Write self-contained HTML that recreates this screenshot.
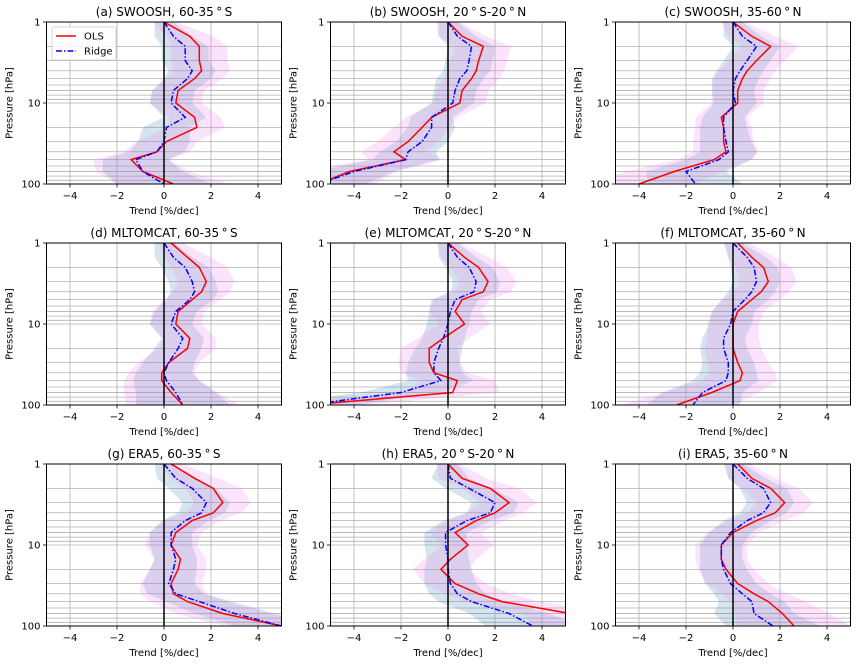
<!DOCTYPE html>
<html><head><meta charset="utf-8">
<style>
html,body{margin:0;padding:0;background:#fff;}
svg{display:block;font-family:"DejaVu Sans","Liberation Sans",sans-serif;}
</style></head>
<body>
<svg id="fig" width="858" height="666" viewBox="0 0 858 666" xmlns="http://www.w3.org/2000/svg"></svg>
<script>
const levels=[1,1.5,2,3,4,5,7,10,15,20,30,40,50,70,100];
const xTicks=[-4,-2,0,2,4];
const yTickLabels=[1,10,100];
const errO=[0.5,1.0,1.2,1.2,1.2,1.2,1.1,1.1,1.1,1.2,1.3,1.4,1.6,2.0,2.4];
const errR=[0.4,0.8,1.0,1.0,1.0,1.0,0.9,0.9,0.9,1.0,1.1,1.2,1.4,1.7,2.0];
const titles=["(a) SWOOSH, 60-35$S","(b) SWOOSH, 20$S-20$N","(c) SWOOSH, 35-60$N",
"(d) MLTOMCAT, 60-35$S","(e) MLTOMCAT, 20$S-20$N","(f) MLTOMCAT, 35-60$N",
"(g) ERA5, 60-35$S","(h) ERA5, 20$S-20$N","(i) ERA5, 35-60$N"];
const olsA=[0,1.1,1.5,1.5,1.6,1.3,0.6,0.5,1.3,1.4,0.1,-0.3,-1.4,-0.9,0.4];
const ridgeA=[0,0.4,0.9,0.9,1.2,1.0,0.4,0.3,0.9,0.1,0.0,-0.3,-1.2,-0.9,0.0];
const olsB=[0,0.6,1.5,1.3,1.2,1.0,0.6,0.5,-0.7,-1.1,-1.7,-2.3,-1.8,-4.2,-5.5];
const ridgeB=[0,0.4,1.0,0.9,0.8,0.5,0.3,0.2,-0.7,-0.7,-1.1,-1.7,-1.8,-4.0,-5.5];
const olsC=[0,0.8,1.6,1.0,0.6,0.4,0.2,0.2,-0.5,-0.4,-0.4,-0.3,-0.8,-2.5,-4.0];
const ridgeC=[0,0.4,1.0,0.6,0.3,0.1,0.0,0.1,-0.4,-0.4,-0.3,-0.2,-0.6,-2.0,-1.6];
const olsD=[0.3,1.0,1.5,1.8,1.6,1.2,0.6,0.5,1.1,1.0,0.2,-0.1,-0.1,0.3,0.8];
const ridgeD=[0,0.4,0.9,1.2,1.3,1.1,0.5,0.3,0.8,0.6,0.2,0.0,0.1,0.5,0.8];
const olsE=[0,0.7,1.3,1.7,1.5,0.6,0.3,0.7,-0.2,-0.8,-0.8,-0.6,0.4,0.2,-6];
const ridgeE=[0,0.4,0.9,1.2,1.1,0.3,0.1,0.0,-0.2,-0.4,-0.6,-0.6,-0.3,-2.0,-6];
const olsF=[0.2,0.8,1.3,1.5,1.2,0.8,0.2,0.0,0.0,0.0,0.2,0.4,0.3,-0.9,-2.4];
const ridgeF=[0,0.6,0.9,1.0,0.8,0.5,0.0,-0.1,-0.4,-0.4,-0.2,-0.2,-0.3,-1.3,-1.7];
const olsG=[0.3,1.3,2.1,2.5,2.1,1.2,0.5,0.3,0.7,0.6,0.3,0.4,1.0,2.5,5.0];
const ridgeG=[0,0.5,1.2,1.8,1.6,0.9,0.3,0.3,0.5,0.4,0.2,0.5,1.5,3.0,5.0];
const olsH=[0,0.6,1.8,2.6,2.0,1.2,0.3,0.85,0.1,-0.3,0.3,1.3,2.3,5.2,6];
const ridgeH=[0,0.1,0.9,2.0,1.8,0.8,-0.1,-0.1,0,0,0.1,0.4,1.0,2.6,3.6];
const olsI=[0.2,0.8,1.6,2.2,1.8,1.0,0.0,-0.5,-0.5,-0.3,0.2,0.9,1.5,2.1,2.6];
const ridgeI=[0,0.6,1.3,1.6,1.3,0.6,-0.1,-0.5,-0.5,-0.4,-0.1,0.4,0.8,0.9,1.7];
const olsAll=[olsA,olsB,olsC,olsD,olsE,olsF,olsG,olsH,olsI];
const ridgeAll=[ridgeA,ridgeB,ridgeC,ridgeD,ridgeE,ridgeF,ridgeG,ridgeH,ridgeI];

const NS="http://www.w3.org/2000/svg";
const svg=document.getElementById('fig');
function mk(tag,attrs,parent){const e=document.createElementNS(NS,tag);for(const k in attrs)e.setAttribute(k,attrs[k]);(parent||svg).appendChild(e);return e;}
const lefts=[46.5,330.5,615.5], tops=[22,243,464], W=235, H=162;
const defs=mk('defs',{});
for(let i=0;i<9;i++){
  const L=lefts[i%3], T=tops[Math.floor(i/3)];
  const xs=v=>L+(v+5)/10*W;
  const ys=p=>T+Math.log10(p)/2*H;
  const g=mk('g',{});
  
  
  const cp=mk('clipPath',{id:'c'+i},defs);
  mk('rect',{x:L,y:T,width:W,height:H},cp);
  for(const t of xTicks){const l=mk('line',{x1:xs(t),x2:xs(t),y1:T,y2:T+H,stroke:'#b0b0b0','stroke-width':0.8},g);}
  for(const dec of [1,10]) for(let m=1;m<=9;m++){const p=dec*m;if(p===1)continue;
    const l=mk('line',{x1:L,x2:L+W,y1:ys(p),y2:ys(p),stroke:'#b0b0b0','stroke-width':0.8},g);}
  const cg=mk('g',{'clip-path':'url(#c'+i+')'},g);
  function band(arr,err,fill,name){
    let d='';levels.forEach((p,k)=>{d+=(k?'L':'M')+xs(arr[k]+err[k]).toFixed(1)+','+ys(p).toFixed(1);});
    for(let k=levels.length-1;k>=0;k--)d+='L'+xs(arr[k]-err[k]).toFixed(1)+','+ys(levels[k]).toFixed(1);
    const e=mk('path',{d:d+'Z',fill:fill,stroke:'none'},cg);}
  band(ridgeAll[i],errR,'rgba(70,130,180,0.22)','ridge-uncertainty-band');
  band(olsAll[i],errO,'rgba(238,130,238,0.22)','ols-uncertainty-band');
  const z=mk('line',{x1:xs(0),x2:xs(0),y1:T,y2:T+H,stroke:'#000','stroke-width':1.5},g);
  
  function line(arr,stroke,dash,name){
    const pts=levels.map((p,k)=>xs(arr[k]).toFixed(1)+','+ys(p).toFixed(1)).join(' ');
    const e=mk('polyline',{points:pts,fill:'none',stroke:stroke,'stroke-width':1.5},cg);
    if(dash)e.setAttribute('stroke-dasharray',dash);
    }
  line(olsAll[i],'#ff0000',null,'ols-line');
  line(ridgeAll[i],'#0000ff','6,2,1.5,2','ridge-line');
  const fr=mk('rect',{x:L,y:T,width:W,height:H,fill:'none',stroke:'#000','stroke-width':1},g);
  
  for(const t of xTicks){
    mk('line',{x1:xs(t),x2:xs(t),y1:T+H,y2:T+H+3.5,stroke:'#000','stroke-width':0.8},g);
    const tx=mk('text',{x:xs(t),y:T+H+15,'font-size':10,'text-anchor':'middle',fill:'#000'},g);
    tx.textContent=(t<0?'\u2212':'')+Math.abs(t);
    }
  for(const p of yTickLabels){
    mk('line',{x1:L-3.5,x2:L,y1:ys(p),y2:ys(p),stroke:'#000','stroke-width':0.8},g);
    const tx=mk('text',{x:L-6,y:ys(p)+3.5,'font-size':10,'text-anchor':'end',fill:'#000'},g);
    tx.textContent=p;}
  const xl=mk('text',{x:L+W/2,y:T+H+30,'font-size':10,'text-anchor':'middle',fill:'#000'},g);
  xl.textContent='Trend [%/dec]';
  const yl=mk('text',{x:0,y:0,'font-size':10,'text-anchor':'middle',fill:'#000',transform:'translate('+(L-34)+','+(T+H/2)+') rotate(-90)'},g);
  yl.textContent='Pressure [hPa]';
  const tt=mk('text',{x:L+W/2,y:T-6,'font-size':12,'text-anchor':'middle',fill:'#000'},g);
  tt.textContent=titles[i].replace(/\$/g,'\u2009\u00b0\u2009');
  
}
const lg=mk('g',{});


mk('rect',{x:52,y:27,width:64,height:33,rx:2,fill:'#fff','fill-opacity':0.8,stroke:'#ccc','stroke-width':0.8},lg);
mk('line',{x1:56,x2:76,y1:36,y2:36,stroke:'#ff0000','stroke-width':1.5},lg);
mk('line',{x1:56,x2:76,y1:51,y2:51,stroke:'#0000ff','stroke-width':1.5,'stroke-dasharray':'6,2,1.5,2'},lg);
const t1=mk('text',{x:84,y:39.5,'font-size':10,fill:'#000'},lg);t1.textContent='OLS';


const t2=mk('text',{x:84,y:54.5,'font-size':10,fill:'#000'},lg);t2.textContent='Ridge';


</script>
</body></html>
